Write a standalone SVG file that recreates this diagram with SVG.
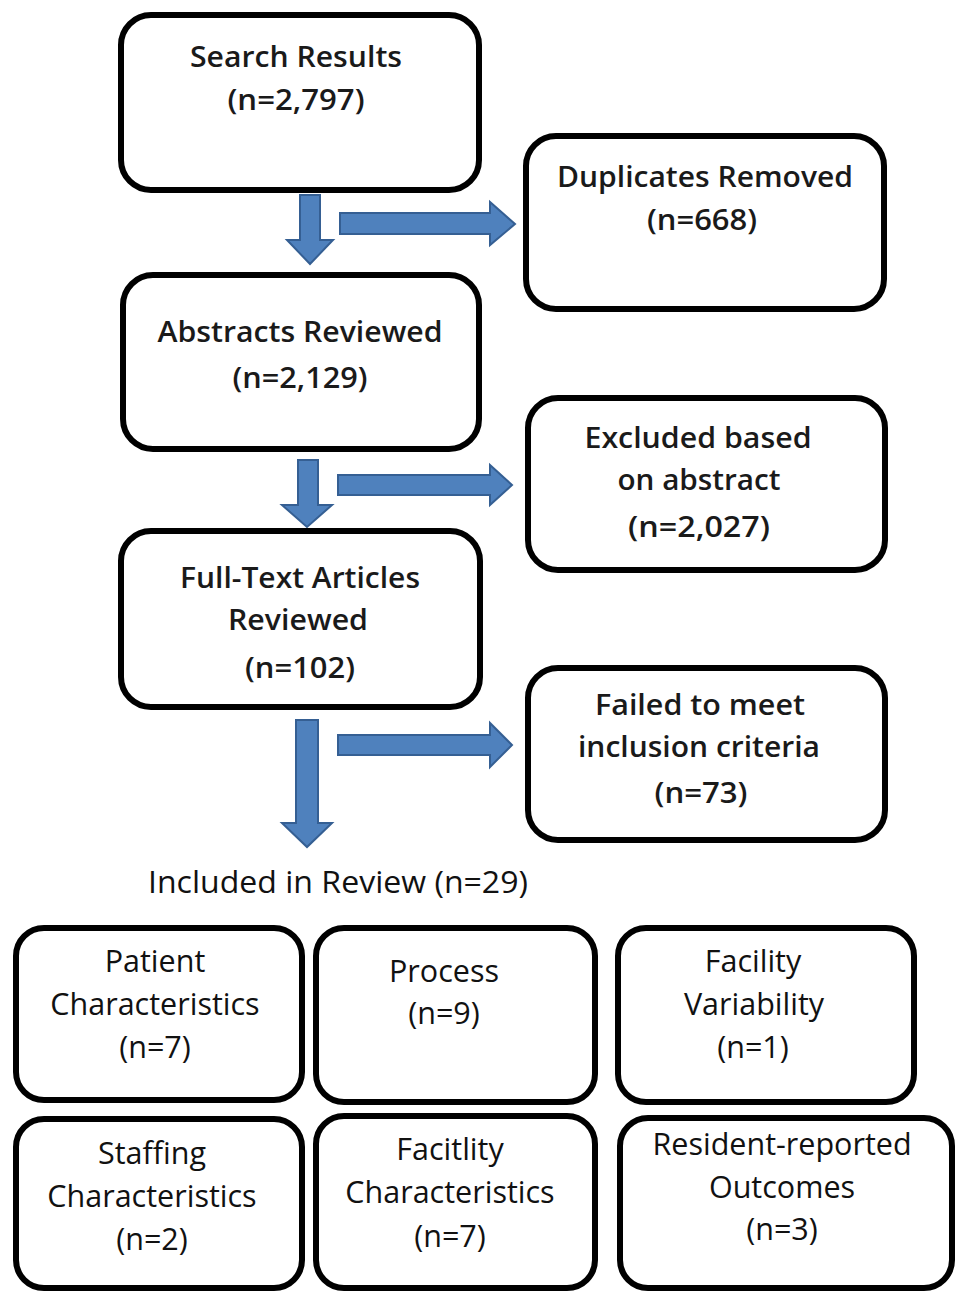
<svg xmlns="http://www.w3.org/2000/svg" width="956" height="1292" viewBox="0 0 956 1292">
<style>
.box{fill:#fff;stroke:#000;stroke-width:6}
.t{font-family:"Open Sans","Liberation Sans",sans-serif;font-weight:600;font-size:28px;fill:#1a1a1a;text-anchor:middle}
.b{font-family:"Open Sans","Liberation Sans",sans-serif;font-weight:400;font-size:30.5px;fill:#111;text-anchor:middle}
.arr{fill:#4f81bd;stroke:#355f93;stroke-width:2;stroke-linejoin:miter}
</style>
<rect width="956" height="1292" fill="#fff"/>
<g id="connectors">
<polygon class="arr" points="300,195 320,195 320,240 333,240 310,264 287,240 300,240"/>
<polygon class="arr" points="340,213 490,213 490,202 515,224 490,245 490,234 340,234"/>
<polygon class="arr" points="298,460 318,460 318,505 332,505 307,527 282,505 298,505"/>
<polygon class="arr" points="338,475 490,475 490,465 512,485 490,505 490,495 338,495"/>
<polygon class="arr" points="296,720 318,720 318,823 332,823 307,847 282,823 296,823"/>
<polygon class="arr" points="338,735 490,735 490,723 512,745 490,767 490,755 338,755"/>
</g>
<g id="search">
<rect class="box" x="121" y="15" width="358" height="175" rx="30"/>
<text class="t" x="296" y="67" textLength="212" lengthAdjust="spacingAndGlyphs">Search Results</text>
<text class="t" x="296" y="110" textLength="137" lengthAdjust="spacingAndGlyphs">(n=2,797)</text>
</g>
<g id="duplicates">
<rect class="box" x="526" y="136" width="358" height="173" rx="30"/>
<text class="t" x="705" y="187" textLength="296" lengthAdjust="spacingAndGlyphs">Duplicates Removed</text>
<text class="t" x="702" y="230" textLength="110" lengthAdjust="spacingAndGlyphs">(n=668)</text>
</g>
<g id="abstracts">
<rect class="box" x="123" y="275" width="356" height="174" rx="30"/>
<text class="t" x="300" y="342" textLength="285" lengthAdjust="spacingAndGlyphs">Abstracts Reviewed</text>
<text class="t" x="300" y="388" textLength="135" lengthAdjust="spacingAndGlyphs">(n=2,129)</text>
</g>
<g id="excluded">
<rect class="box" x="528" y="398" width="357" height="172" rx="30"/>
<text class="t" x="698" y="448" textLength="227" lengthAdjust="spacingAndGlyphs">Excluded based</text>
<text class="t" x="699" y="490" textLength="163" lengthAdjust="spacingAndGlyphs">on abstract</text>
<text class="t" x="699" y="537" textLength="142" lengthAdjust="spacingAndGlyphs">(n=2,027)</text>
</g>
<g id="fulltext">
<rect class="box" x="121" y="531" width="359" height="176" rx="30"/>
<text class="t" x="300" y="588" textLength="240" lengthAdjust="spacingAndGlyphs">Full-Text Articles</text>
<text class="t" x="298" y="630" textLength="140" lengthAdjust="spacingAndGlyphs">Reviewed</text>
<text class="t" x="300" y="678" textLength="110" lengthAdjust="spacingAndGlyphs">(n=102)</text>
</g>
<g id="failed">
<rect class="box" x="528" y="668" width="357" height="172" rx="30"/>
<text class="t" x="700" y="715" textLength="210" lengthAdjust="spacingAndGlyphs">Failed to meet</text>
<text class="t" x="699" y="757" textLength="242" lengthAdjust="spacingAndGlyphs">inclusion criteria</text>
<text class="t" x="701" y="803" textLength="93" lengthAdjust="spacingAndGlyphs">(n=73)</text>
</g>
<g id="included">
<text class="b" x="338" y="893" textLength="380" lengthAdjust="spacingAndGlyphs">Included in Review (n=29)</text>
</g>
<g id="patient">
<rect class="box" x="16" y="928" width="286" height="172" rx="28"/>
<text class="b" x="155" y="972">Patient</text>
<text class="b" x="155" y="1015">Characteristics</text>
<text class="b" x="155" y="1058">(n=7)</text>
</g>
<g id="process">
<rect class="box" x="316" y="928" width="279" height="174" rx="28"/>
<text class="b" x="444" y="982">Process</text>
<text class="b" x="444" y="1024">(n=9)</text>
</g>
<g id="facility-variability">
<rect class="box" x="618" y="928" width="296" height="174" rx="28"/>
<text class="b" x="753" y="972">Facility</text>
<text class="b" x="754" y="1015">Variability</text>
<text class="b" x="753" y="1058">(n=1)</text>
</g>
<g id="staffing">
<rect class="box" x="16" y="1119" width="286" height="169" rx="28"/>
<text class="b" x="152" y="1164">Staffing</text>
<text class="b" x="152" y="1207">Characteristics</text>
<text class="b" x="152" y="1250">(n=2)</text>
</g>
<g id="facility-characteristics">
<rect class="box" x="316" y="1116" width="279" height="172" rx="28"/>
<text class="b" x="450" y="1160">Facitlity</text>
<text class="b" x="450" y="1203">Characteristics</text>
<text class="b" x="450" y="1247">(n=7)</text>
</g>
<g id="resident">
<rect class="box" x="620" y="1118" width="332" height="170" rx="28"/>
<text class="b" x="782" y="1155">Resident-reported</text>
<text class="b" x="782" y="1198">Outcomes</text>
<text class="b" x="782" y="1240">(n=3)</text>
</g>
</svg>
